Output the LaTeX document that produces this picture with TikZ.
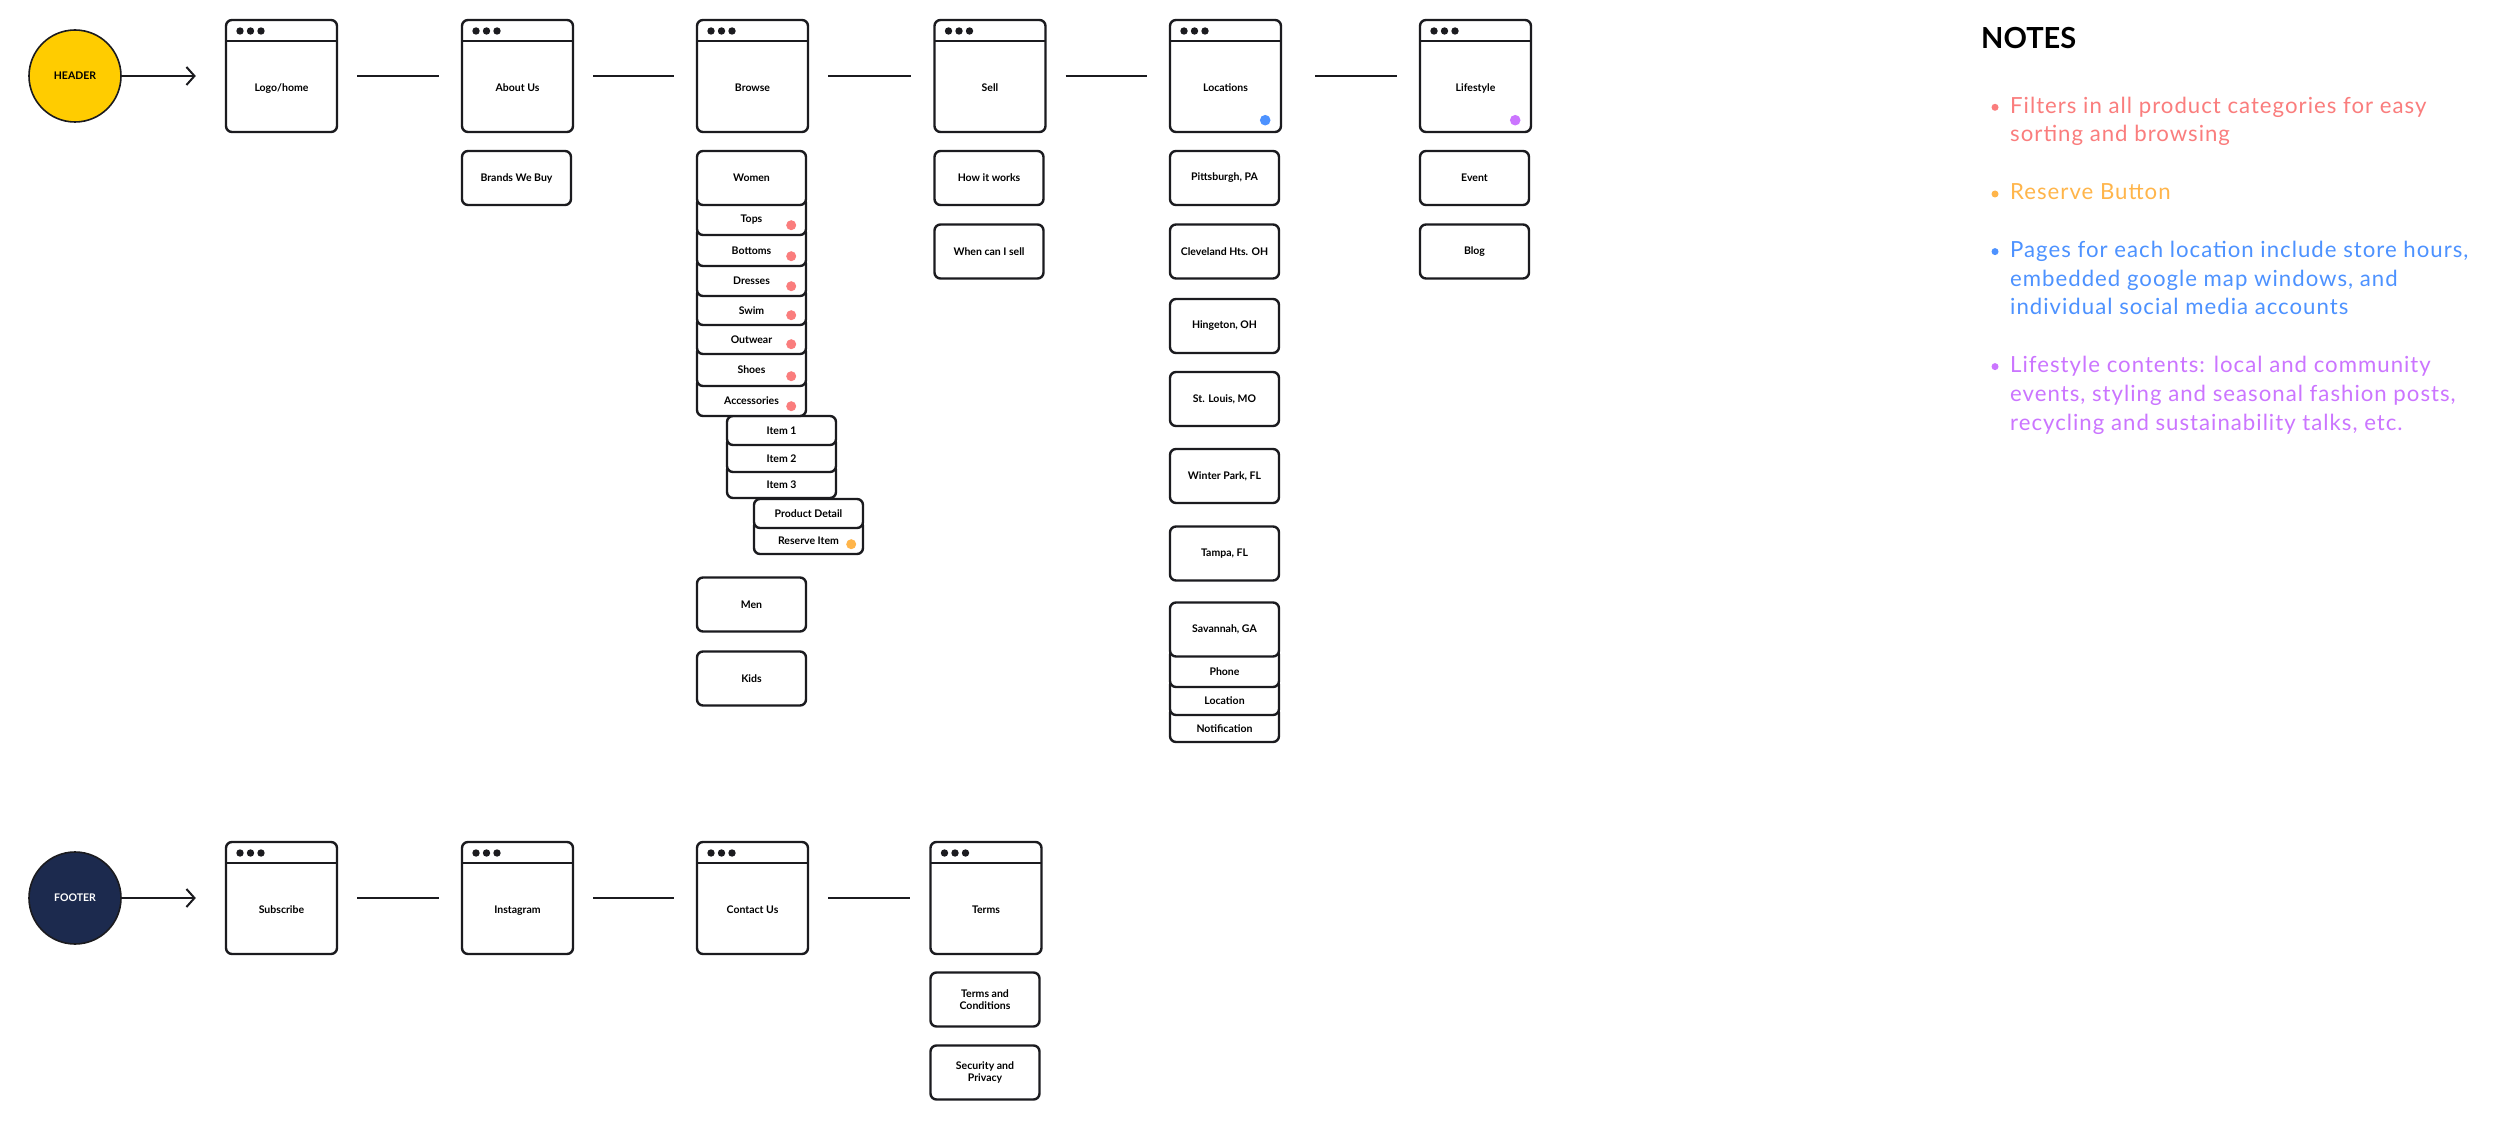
\documentclass[tikz,border=0pt]{standalone}
\usepackage{fontspec}
\setmainfont{Lato}
\newfontfamily\notefont{Lato}[LetterSpace=4.5]
\usetikzlibrary{arrows.meta,positioning,backgrounds}
\definecolor{SiteInk}{HTML}{1B1B1F}
\definecolor{SiteHeader}{HTML}{FFCC00}
\definecolor{SiteFooter}{HTML}{1C2A4E}
\definecolor{NoteFilter}{HTML}{FA7D7D}
\definecolor{NoteReserve}{HTML}{FFB54A}
\definecolor{NoteLocation}{HTML}{4D92FF}
\definecolor{NoteLifestyle}{HTML}{CB75FF}

\begin{document}
\begin{tikzpicture}[x=1pt, y=-1pt,
  pagefont/.style={font=\bfseries\fontsize{10.5}{12.5}\selectfont},
  win/.style={draw=SiteInk, line width=2.4pt, rounded corners=6pt, fill=white, pagefont,
    minimum width=111pt, minimum height=112pt, inner sep=0pt, text height=32pt, text depth=1pt,
    path picture={
      \draw[SiteInk, line width=2.4pt] ([yshift=-21pt]path picture bounding box.north west)
        -- ([yshift=-21pt]path picture bounding box.north east);
      \foreach \k in {0,1,2}
        \fill[SiteInk] ([xshift=14pt+10.5pt*\k, yshift=-11pt]path picture bounding box.north west) circle (3.7pt);
    }},
  page/.style={draw=SiteInk, line width=2.4pt, rounded corners=6pt, fill=white, pagefont,
    minimum width=109pt, minimum height=54pt, inner sep=0pt, align=center},
  tab/.style={draw=SiteInk, line width=2.4pt, rounded corners=6pt, fill=white,
    minimum width=109pt, inner sep=0pt},
  tabtext/.style={pagefont, inner sep=0pt},
  hub/.style={circle, draw=SiteInk, line width=1.6pt, minimum size=92pt, inner sep=0pt, pagefont},
  link/.style={SiteInk, line width=2pt, shorten <=19pt, shorten >=22pt},
  stem/.style={SiteInk, line width=2.4pt},
  lead/.style={SiteInk, line width=2pt, shorten >=29pt, -{Straight Barb[length=8pt, width=18pt, line width=2pt]}},
  note/.style={anchor=base west, inner sep=0pt, align=left, font=\notefont\fontsize{22.2}{28.7}\selectfont}
]
\path[use as bounding box, fill=white] (0,0) rectangle (2500,1131);

% header row
\node[hub, fill=SiteHeader] (header) at (75,76) {HEADER};
\node[win] (logo) at (281.5,76) {Logo/home};
\node[win] (about) at (517.5,76) {About Us};
\node[win] (browse) at (752.5,76) {Browse};
\node[win] (sell) at (990,76) {Sell};
\node[win] (loc) at (1225.5,76) {Locations};
\node[win] (life) at (1475.5,76) {Lifestyle};
\draw[lead] (header) -- (logo);
\draw[link] (logo) -- (about);
\draw[link] (about) -- (browse);
\draw[link] (browse) -- (sell);
\draw[link] (sell) -- (loc);
\draw[link, shorten <=33pt] (loc) -- (life);

\node[page] (brands) at (516.5,178) {Brands We Buy};

% browse stack, drawn from the bottom up
\foreach \nm/\txt/\x/\t/\b/\e in {
    reserve/Reserve Item/808.5/528/554/8,
    product/Product Detail/808.5/499/528/0,
    item3/Item 3/781.5/472/498/8,
    item2/Item 2/781.5/445/472/8,
    item1/Item 1/781.5/416/445/0,
    accessories/Accessories/751.5/386/416/8,
    shoes/Shoes/751.5/354/386/8,
    outwear/Outwear/751.5/325/354/8,
    swim/Swim/751.5/296/325/8,
    dresses/Dresses/751.5/266/296/8,
    bottoms/Bottoms/751.5/235/266/8,
    tops/Tops/751.5/205/235/8}
  \node[tab, minimum height={\b-\t+\e}, label={[tabtext, yshift={-\e*0.5pt}]center:\txt}]
    (\nm) at (\x, {(\t+\b-\e)/2}) {};
\node[page] (women) at (751.5,178) {Women};
\node[page] (men) at (751.5,604.5) {Men};
\node[page] (kids) at (751.5,678.5) {Kids};

\node[page] (how) at (989,178) {How it works};
\node[page] (when) at (989,251.5) {When can I sell};

\node[page] (pitt) at (1224.5,178) {Pittsburgh, PA};
\node[page] (cleve) at (1224.5,251.5) {Cleveland Hts. OH};
\node[page] (hinge) at (1224.5,326) {Hingeton, OH};
\node[page] (stl) at (1224.5,399) {St. Louis, MO};
\node[page] (winter) at (1224.5,476) {Winter Park, FL};
\node[page] (tampa) at (1224.5,553.5) {Tampa, FL};
\foreach \nm/\txt/\t/\b in {notification/Notification/715/742, location/Location/687/715, phone/Phone/657/687}
  \node[tab, minimum height={\b-\t+8}, label={[tabtext, yshift=-4pt]center:\txt}]
    (\nm) at (1224.5, {(\t+\b-8)/2}) {};
\node[page] (savannah) at (1224.5,629.5) {Savannah, GA};

\node[page] (event) at (1474.5,178) {Event};
\node[page] (blog) at (1474.5,251.5) {Blog};

% footer row
\node[hub, fill=SiteFooter, text=white] (footer) at (75,898) {FOOTER};
\node[win] (subscribe) at (281.5,898) {Subscribe};
\node[win] (insta) at (517.5,898) {Instagram};
\node[win] (contact) at (752.5,898) {Contact Us};
\node[win] (terms) at (986,898) {Terms};
\draw[lead] (footer) -- (subscribe);
\draw[link] (subscribe) -- (insta);
\draw[link] (insta) -- (contact);
\draw[link, shorten >=19pt] (contact) -- (terms);
\node[page] (cond) at (985,999.5) {Terms and\\Conditions};
\node[page] (privacy) at (985,1072.5) {Security and\\Privacy};

% stems
\begin{scope}[on background layer]
  \draw[stem] (about.south west) -- (brands.north west);
  \draw[stem] (browse.south west) -- (kids.north west);
  \draw[stem] (sell.south west) -- (when.north west);
  \draw[stem] (loc.south west) -- (savannah.north west);
  \draw[stem] (life.south west) -- (blog.north west);
  \draw[stem] (terms.south west) -- (privacy.north west);
\end{scope}

% flags
\foreach \nm in {tops,bottoms,dresses,swim,outwear,shoes,accessories}
  \fill[NoteFilter] ([xshift=-16pt, yshift=11pt]\nm.south east) circle (5pt);
\fill[NoteReserve] ([xshift=-13pt, yshift=11pt]reserve.south east) circle (5pt);
\fill[NoteLocation] ([xshift=-17pt, yshift=13pt]loc.south east) circle (5.3pt);
\fill[NoteLifestyle] ([xshift=-17pt, yshift=13pt]life.south east) circle (5.3pt);

% notes (base = last line)
\node[anchor=base west, inner sep=0pt, font=\bfseries\fontsize{29}{34}\selectfont] (notes) at (1981,49) {NOTES};
\node[note, NoteFilter] (n1) at (2010,142) {Filters in all product categories for easy\\sorting and browsing};
\node[note, NoteReserve] (n2) at (2010,200) {Reserve Button};
\node[note, NoteLocation] (n3) at (2010,315) {Pages for each location include store hours,\\embedded google map windows, and\\individual social media accounts};
\node[note, NoteLifestyle] (n4) at (2010,430) {Lifestyle contents: local and community\\events, styling and seasonal fashion posts,\\recycling and sustainability talks, etc.};
\foreach \n/\c/\l in {n1/NoteFilter/1, n2/NoteReserve/0, n3/NoteLocation/2, n4/NoteLifestyle/2}
  \fill[\c] ([xshift=-15pt, yshift={6pt+28.7pt*\l}]\n.base west) circle (3.5pt);
\end{tikzpicture}
\end{document}
